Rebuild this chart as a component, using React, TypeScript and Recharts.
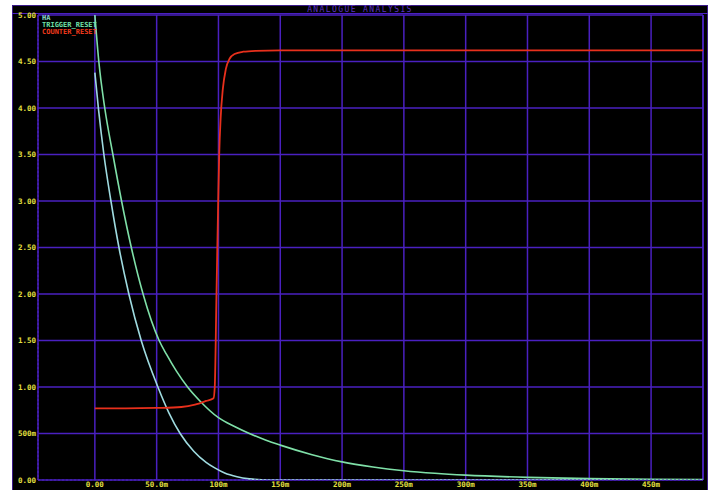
import { LineChart, Line, XAxis, YAxis, CartesianGrid, ReferenceLine } from "recharts"

// time in ms, value in volts
const HA_POINTS: [number, number][] = [
  [0, 4.38], [3, 3.98], [7.3, 3.5], [13, 3.0], [19.5, 2.5], [27.5, 2.0], [37.5, 1.5],
  [51, 1.0], [60, 0.72], [69, 0.5], [80, 0.31], [90, 0.19], [97, 0.13], [105, 0.075],
  [115, 0.035], [125, 0.012], [135, 0.002], [145, 0], [492, 0],
]

const TRIGGER_POINTS: [number, number][] = [
  [0, 5.0], [3.2, 4.5], [8, 4.0], [14.6, 3.5], [21.6, 3.0], [29.5, 2.5], [39, 2.0],
  [52, 1.5], [58, 1.35], [66, 1.17], [75, 1.0], [85, 0.85], [100, 0.67], [113, 0.575],
  [125, 0.5], [138, 0.43], [150, 0.375], [175, 0.275], [200, 0.195], [225, 0.14],
  [250, 0.1], [275, 0.072], [300, 0.052], [350, 0.028], [400, 0.015], [450, 0.008],
  [492, 0.005],
]

const COUNTER_POINTS: [number, number][] = [
  [0, 0.77], [25, 0.77], [50, 0.775], [70, 0.785], [81, 0.81], [90, 0.85], [96, 0.88],
  [97, 1.0], [98.4, 2.0], [99.8, 3.0], [100.6, 3.5], [101.8, 3.9], [103.5, 4.2],
  [106, 4.42], [109, 4.53], [113, 4.58], [120, 4.605], [130, 4.615], [150, 4.62], [492, 4.62],
]

const SERIES = [
  { name: "HA", color: "#9fdbe0", legend: "#88d8c8", width: 1.6, points: HA_POINTS },
  { name: "TRIGGER_RESET", color: "#7fe0a8", legend: "#70e0a8", width: 1.6, points: TRIGGER_POINTS },
  { name: "COUNTER_RESET", color: "#e8301c", legend: "#f03a1c", width: 1.8, points: COUNTER_POINTS },
]

const X_TICKS = [0, 50, 100, 150, 200, 250, 300, 350, 400, 450]
const X_TICK_LABELS = ["0.00", "50.0m", "100m", "150m", "200m", "250m", "300m", "350m", "400m", "450m"]
const Y_TICKS = [0, 0.5, 1, 1.5, 2, 2.5, 3, 3.5, 4, 4.5, 5]
const Y_TICK_LABELS = ["0.00", "500m", "1.00", "1.50", "2.00", "2.50", "3.00", "3.50", "4.00", "4.50", "5.00"]

const X_DOMAIN: [number, number] = [-46, 492]

const GRID = "#4a20c0"
const YELLOW = "#e6e040"
const MONO = "'DejaVu Sans Mono', monospace"

const tickStyle = { fill: YELLOW, fontSize: 7.5, fontFamily: MONO, fontWeight: 700 }

export default function App() {
  return (
    <div style={{ position: "absolute", left: 0, top: 0, width: 712, height: 490, background: "#fff" }}>
      <div
        style={{
          position: "absolute", left: 12, top: 5, width: 694, height: 484,
          background: "#000", border: "1px solid #3a1a8a",
        }}
      />
      <div style={{ position: "absolute", left: 12, top: 13, width: 696, height: 1, background: GRID }} />
      <div
        style={{
          position: "absolute", left: 12, top: 5, width: 696, height: 9, lineHeight: "9px",
          textAlign: "center", color: "#5a30c0", fontFamily: MONO, fontSize: 8, letterSpacing: 1.4,
        }}
      >
        ANALOGUE ANALYSIS
      </div>
      <div style={{ position: "absolute", left: 0, top: 0 }}>
        <LineChart width={712} height={490} margin={{ top: 15, right: 9, left: 12, bottom: 0 }}>
          <CartesianGrid stroke={GRID} strokeWidth={1.5} />
          <XAxis
            type="number"
            dataKey="t"
            domain={X_DOMAIN}
            ticks={X_TICKS}
            allowDataOverflow
            height={10}
            tickSize={0}
            tickMargin={2}
            tickLine={false}
            axisLine={{ stroke: GRID, strokeDasharray: "2 2" }}
            tick={tickStyle}
            tickFormatter={(v: number) => X_TICK_LABELS[X_TICKS.indexOf(v)] ?? ""}
            interval={0}
          />
          <YAxis
            type="number"
            domain={[0, 5]}
            ticks={Y_TICKS}
            allowDataOverflow
            width={26}
            tickSize={0}
            tickMargin={2}
            tickLine={false}
            axisLine={{ stroke: GRID, strokeDasharray: "2 2" }}
            tick={tickStyle}
            tickFormatter={(v: number) => Y_TICK_LABELS[Y_TICKS.indexOf(v)] ?? ""}
            interval={0}
          />
          <ReferenceLine x={X_DOMAIN[1]} stroke={GRID} strokeWidth={1.5} />
          {SERIES.map((s) => (
            <Line
              key={s.name}
              name={s.name}
              data={s.points.map(([t, v]) => ({ t, v }))}
              dataKey="v"
              type="monotone"
              stroke={s.color}
              strokeWidth={s.width}
              dot={false}
              isAnimationActive={false}
            />
          ))}
        </LineChart>
      </div>
      <div style={{ position: "absolute", left: 42, top: 15, fontFamily: MONO, fontSize: 7, lineHeight: "6.8px", fontWeight: 700 }}>
        {SERIES.map((s) => (
          <div key={s.name} style={{ color: s.legend }}>{s.name}</div>
        ))}
      </div>
    </div>
  )
}
